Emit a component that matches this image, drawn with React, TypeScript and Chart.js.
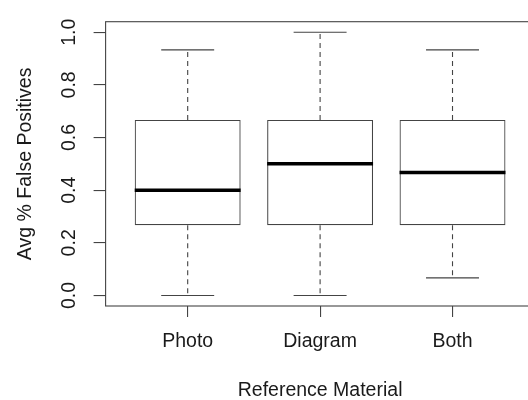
import React, { useEffect, useRef } from "react";
import { Chart, registerables } from "chart.js";

Chart.register(...registerables);

const categories = ["Photo", "Diagram", "Both"];
const positions = [1, 2, 3];
const mins = [0.0, 0.0, 0.067];
const q1s = [0.267, 0.267, 0.267];
const medians = [0.4, 0.5, 0.467];
const q3s = [0.667, 0.667, 0.667];
const maxs = [0.933, 1.0, 0.933];
const yTicks = [0, 0.2, 0.4, 0.6, 0.8, 1.0];
const yTitle = "Avg % False Positives";
const xTitle = "Reference Material";

const FONT = "'Liberation Sans', Arial, Helvetica, sans-serif";
const FS = 19.5;
const LINE = "#444";
const TEXT = "#1a1a1a";

const boxPlugin = {
  id: "rbox",
  afterDatasetsDraw(chart: any) {
    const { ctx, chartArea, scales } = chart;
    const xs = scales.x;
    const ys = scales.y;
    ctx.save();
    ctx.strokeStyle = LINE;
    ctx.lineWidth = 1.1;
    positions.forEach((p, i) => {
      const cx = xs.getPixelForValue(p);
      const cl = xs.getPixelForValue(p - 0.2);
      const cr = xs.getPixelForValue(p + 0.2);
      ctx.setLineDash([5, 4]);
      ctx.beginPath();
      ctx.moveTo(cx, ys.getPixelForValue(q3s[i]));
      ctx.lineTo(cx, ys.getPixelForValue(maxs[i]));
      ctx.moveTo(cx, ys.getPixelForValue(q1s[i]));
      ctx.lineTo(cx, ys.getPixelForValue(mins[i]));
      ctx.stroke();
      ctx.setLineDash([]);
      ctx.beginPath();
      ctx.moveTo(cl, ys.getPixelForValue(maxs[i]));
      ctx.lineTo(cr, ys.getPixelForValue(maxs[i]));
      ctx.moveTo(cl, ys.getPixelForValue(mins[i]));
      ctx.lineTo(cr, ys.getPixelForValue(mins[i]));
      ctx.stroke();
      const bl = xs.getPixelForValue(p - 0.4);
      const br = xs.getPixelForValue(p + 0.4);
      ctx.save();
      ctx.strokeStyle = "#000";
      ctx.lineWidth = 3.5;
      ctx.beginPath();
      ctx.moveTo(bl, ys.getPixelForValue(medians[i]));
      ctx.lineTo(br, ys.getPixelForValue(medians[i]));
      ctx.stroke();
      ctx.restore();
    });
    ctx.lineWidth = 1.1;
    ctx.strokeStyle = LINE;
    ctx.strokeRect(chartArea.left, chartArea.top, chartArea.right - chartArea.left, chartArea.bottom - chartArea.top);
    ctx.restore();
  },
};

export default function App() {
  const ref = useRef<HTMLCanvasElement>(null);
  useEffect(() => {
    if (!ref.current) return;
    const chart = new Chart(ref.current, {
      type: "bar",
      data: {
        datasets: [
          {
            data: positions.map((p, i) => ({ x: p, y: [q1s[i], q3s[i]] })) as any,
            backgroundColor: "rgba(255,255,255,0)",
            borderColor: LINE,
            borderWidth: 1.1,
            borderSkipped: false,
            categoryPercentage: 1,
            barPercentage: 0.8,
          },
        ],
      },
      options: {
        animation: false,
        responsive: false,
        events: [],
        layout: { padding: { left: 0, top: 10.4, right: 10.4, bottom: 0 } },
        plugins: { legend: { display: false }, tooltip: { enabled: false } },
        scales: {
          x: {
            type: "linear",
            min: 0.38,
            max: 3.62,
            offset: false,
            afterBuildTicks: (s: any) => {
              s.ticks = positions.map((v) => ({ value: v }));
            },
            afterFit: (s: any) => {
              s.height = 94;
            },
            grid: {
              offset: false,
              drawOnChartArea: false,
              drawTicks: true,
              tickLength: 11,
              color: LINE,
              lineWidth: 1.1,
            },
            border: { display: false },
            ticks: {
              autoSkip: false,
              maxRotation: 0,
              padding: 13,
              color: TEXT,
              font: { family: FONT, size: FS },
              callback: (v: any) => categories[positions.indexOf(Number(v))] ?? "",
            },
            title: {
              display: true,
              text: xTitle,
              color: TEXT,
              font: { family: FONT, size: FS },
              padding: { top: 0, bottom: -2 },
            },
          },
          y: {
            type: "linear",
            min: -0.04,
            max: 1.04,
            afterBuildTicks: (s: any) => {
              s.ticks = yTicks.map((v) => ({ value: v }));
            },
            afterFit: (s: any) => {
              s.width = 105.6;
            },
            grid: {
              drawOnChartArea: false,
              drawTicks: true,
              tickLength: 12,
              color: LINE,
              lineWidth: 1.1,
            },
            border: { display: false },
            ticks: {
              autoSkip: false,
              minRotation: 90,
              maxRotation: 90,
              crossAlign: "center",
              padding: 10,
              color: TEXT,
              font: { family: FONT, size: FS },
              callback: (v: any) => Number(v).toFixed(1),
            },
            title: {
              display: true,
              text: yTitle,
              color: TEXT,
              font: { family: FONT, size: FS },
              padding: { top: 14, bottom: 0 },
            },
          },
        },
      },
      plugins: [boxPlugin],
    });
    return () => chart.destroy();
  }, []);
  return (
    <div style={{ position: "fixed", left: 0, top: 0, width: 528, height: 400, overflow: "hidden", background: "#fff" }}>
      <canvas ref={ref} width={545} height={400} style={{ display: "block", width: 545, height: 400 }} />
    </div>
  );
}
